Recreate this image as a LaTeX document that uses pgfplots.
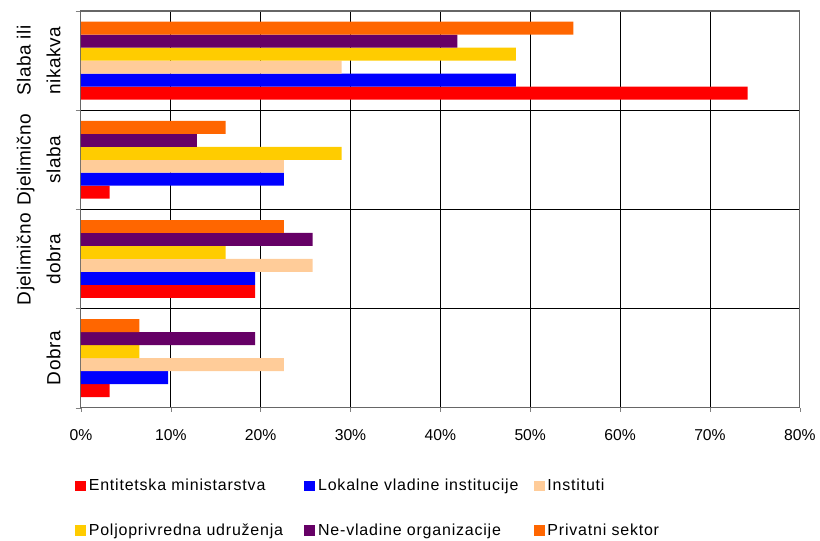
\documentclass[border=0pt]{standalone}
\usepackage{fontspec}
\setmainfont{Liberation Sans}
\newfontfamily\legfont[LetterSpace=5]{Liberation Sans}
\newfontfamily\ylfont[LetterSpace=2.5]{Liberation Sans}
\usepackage{pgfplots}
\pgfplotsset{compat=1.18}
\definecolor{cRed}{HTML}{FF0000}
\definecolor{cBlue}{HTML}{0000FF}
\definecolor{cInst}{HTML}{FFCC99}
\definecolor{cYellow}{HTML}{FFCC00}
\definecolor{cPurple}{HTML}{660066}
\definecolor{cOrange}{HTML}{FF6600}
\newcommand{\legbox}[1]{\makebox[160pt][l]{#1}}
\begin{document}
\begin{tikzpicture}
\begin{axis}[
  name=ax,
  scale only axis, width=540pt, height=298pt,
  xbar=0pt, bar width=9.75pt,
  xmin=0, xmax=80, ymin=-0.5, ymax=3.5,
  xtick={0,10,...,80},
  xticklabel={\pgfmathprintnumber{\tick}\%},
  /pgf/number format/assume math mode=true,
  xticklabel style={font=\fontsize{11.8}{13}\selectfont},
  xticklabel shift=9.5pt,
  xmajorgrids, major grid style={black, line width=0.6pt},
  ytick={0,1,2,3},
  yticklabels={Dobra, {Djelimično\\dobra}, {Djelimično\\slaba}, {Slaba ili\\nikakva}},
  yticklabel style={rotate=90, align=center, anchor=south, inner sep=0pt,
    font=\ylfont\fontsize{14.3}{22.5}\selectfont},
  yticklabel shift=12pt,
  major y tick style={draw=none},
  minor ytick={-0.5,0.5,1.5,2.5,3.5},
  yminorgrids, minor grid style={black, line width=0.6pt},
  minor tick length=4pt, major tick length=3pt,
  tick align=outside, tick pos=left,
  axis line style={gray!80!black, line width=0.8pt},
  legend columns=3,
  legend cell align=left,
  legend style={draw=none, at={(axis description cs:0,0)}, anchor=north west,
    xshift=-4.5pt, yshift=-51.5pt, inner sep=0pt, row sep=19.5pt,
    font=\legfont\fontsize{12}{13}\selectfont,
    nodes={inner xsep=2pt},
    /tikz/every even column/.append style={column sep=0pt}},
  legend image code/.code={\fill[#1] (0pt,-4.1pt) rectangle (8.25pt,4.1pt);},
]
\addplot[fill=cRed, draw=none] coordinates {(3.2,0) (19.4,1) (3.2,2) (74.2,3)};
\addplot[fill=cBlue, draw=none] coordinates {(9.7,0) (19.4,1) (22.6,2) (48.4,3)};
\addplot[fill=cInst, draw=none] coordinates {(22.6,0) (25.8,1) (22.6,2) (29.0,3)};
\addplot[fill=cYellow, draw=none] coordinates {(6.5,0) (16.1,1) (29.0,2) (48.4,3)};
\addplot[fill=cPurple, draw=none] coordinates {(19.4,0) (25.8,1) (12.9,2) (41.9,3)};
\addplot[fill=cOrange, draw=none] coordinates {(6.5,0) (22.6,1) (16.1,2) (54.8,3)};
\legend{\legbox{Entitetska ministarstva}, \legbox{Lokalne vladine institucije}, \legbox{Instituti},
  \legbox{Poljoprivredna udruženja}, \legbox{Ne-vladine organizacije}, \legbox{Privatni sektor}}
\end{axis}
\path ([xshift=-60.75pt, yshift=8.25pt]ax.north west) rectangle ([xshift=14.25pt, yshift=-95.25pt]ax.south east);
\end{tikzpicture}
\end{document}
